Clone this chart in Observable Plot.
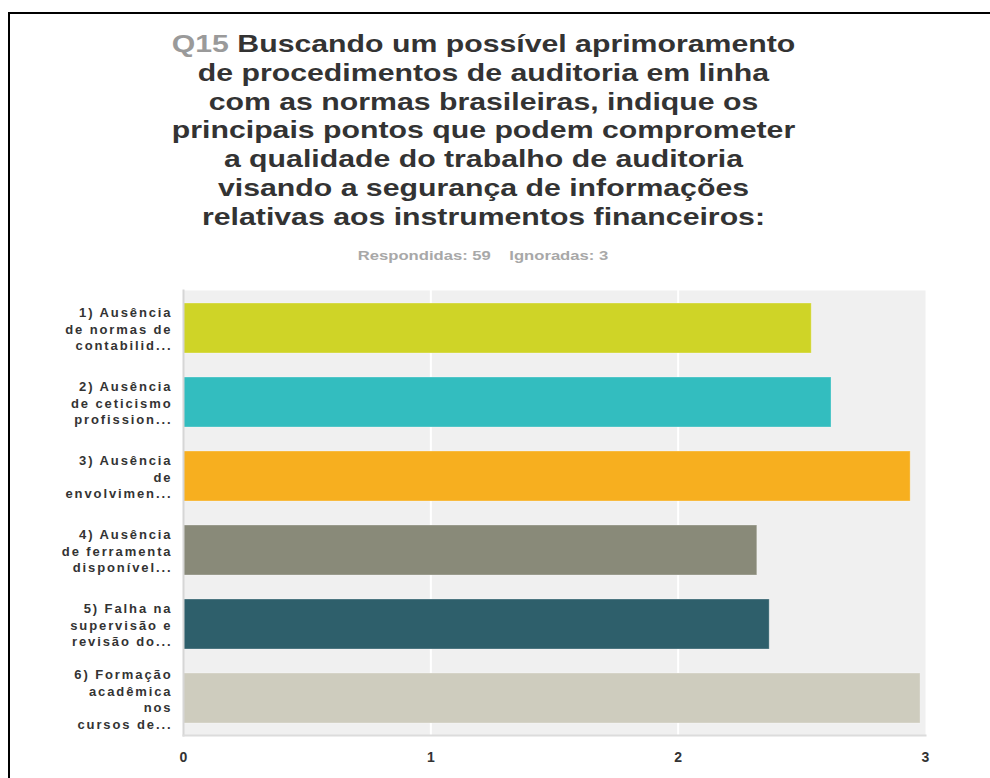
<!DOCTYPE html>
<html>
<head>
<meta charset="utf-8">
<script src="https://cdn.jsdelivr.net/npm/d3@7"></script>
<script src="https://cdn.jsdelivr.net/npm/@observablehq/plot@0.6"></script>
<style>
  html, body { margin: 0; padding: 0; background: #fff; }
  #page { position: relative; width: 990px; height: 778px; overflow: hidden; font-family: "Liberation Sans", Arial, sans-serif; }
  #border { position: absolute; left: 8px; top: 12px; width: 1100px; height: 900px; border-top: 2px solid #000; border-left: 2px solid #000; box-sizing: border-box; }
  #title { position: absolute; left: 0; width: 967px; top: 30px; text-align: center; font-weight: bold; font-size: 24px; line-height: 28.8px; color: #333; transform: scaleX(1.26); transform-origin: 483.5px 0; white-space: nowrap; }
  #title .q { color: #9a9a9a; }
  #subtitle { position: absolute; left: 0; width: 966px; top: 249px; text-align: center; font-weight: bold; font-size: 12.5px; color: #a8a8a8; transform: scaleX(1.33); transform-origin: 483px 0; white-space: pre; }
  #chart { position: absolute; left: 0; top: 280px; }
  #chart svg g[aria-label="y-axis tick label"] text { letter-spacing: 1.9px; }
</style>
</head>
<body>
<div id="page">
  <div id="border"></div>
  <div id="title"><span class="q">Q15</span> Buscando um possível aprimoramento<br>de procedimentos de auditoria em linha<br>com as normas brasileiras, indique os<br>principais pontos que podem comprometer<br>a qualidade do trabalho de auditoria<br>visando a segurança de informações<br>relativas aos instrumentos financeiros:</div>
  <div id="subtitle">Respondidas: 59    Ignoradas: 3</div>
  <div id="chart"></div>
</div>
<script>
const categories = [
  "1) Ausência\nde normas de\ncontabilid...",
  "2) Ausência\nde ceticismo\nprofission...",
  "3) Ausência\nde\nenvolvimen...",
  "4) Ausência\nde ferramenta\ndisponível...",
  "5) Falha na\nsupervisão e\nrevisão do...",
  "6) Formação\nacadêmica\nnos\ncursos de..."
];
const values = [2.54, 2.62, 2.94, 2.32, 2.37, 2.98];
const colors = ["#CFD427", "#33BDBF", "#F7AF1F", "#898A79", "#2E5F6B", "#CECCBE"];
const xTicks = [0, 1, 2, 3];
const gridTicks = [1, 2];

const data = categories.map((c, i) => ({category: c, value: values[i]}));

const chart = Plot.plot({
  width: 990,
  height: 498,
  marginTop: 10,
  marginBottom: 43,
  marginLeft: 183,
  marginRight: 65,
  style: {fontFamily: "'Liberation Sans', Arial, sans-serif", background: "transparent"},
  x: {domain: [0, 3]},
  y: {domain: categories, paddingInner: 0.326, paddingOuter: 0.16},
  color: {domain: categories, range: colors},
  marks: [
    Plot.frame({fill: "#f0f0f0"}),
    Plot.gridX({ticks: gridTicks, stroke: "#ffffff", strokeOpacity: 1, strokeWidth: 2}),
    Plot.barX(data, {y: "category", x: "value", fill: "category", stroke: "#ffffff", strokeOpacity: 0.3, strokeWidth: 1}),
    Plot.frame({anchor: "left", stroke: "#d6d6d6", strokeWidth: 2}),
    Plot.frame({anchor: "bottom", stroke: "#dcdcdc", strokeWidth: 2}),
    Plot.axisY({label: null, tickSize: 0, tickPadding: 11, fontSize: 13, fontWeight: "bold", fill: "#333", lineHeight: 1.27}),
    Plot.axisX({ticks: xTicks, tickFormat: d => String(d), label: null, tickSize: 0, tickPadding: 17, fontSize: 14, fontWeight: "bold", fill: "#333"})
  ]
});
document.getElementById("chart").appendChild(chart);
</script>
</body>
</html>
